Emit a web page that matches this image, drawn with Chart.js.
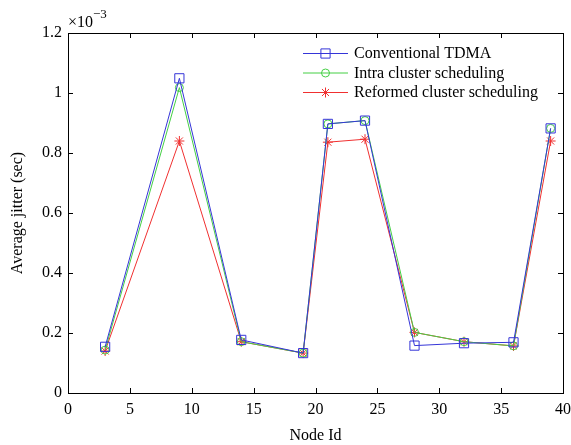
<!DOCTYPE html>
<html>
<head>
<meta charset="utf-8">
<script src="https://cdn.jsdelivr.net/npm/chart.js@4.4.1/dist/chart.umd.min.js"></script>
<style>
  html, body { margin: 0; padding: 0; background: #fff; }
  #wrap { width: 571px; height: 445px; }
</style>
</head>
<body>
<div id="wrap"><canvas id="canvas" width="571" height="445"></canvas></div>
<script>
// node ids on the x-axis
var nodeIds = [3, 9, 14, 19, 21, 24, 28, 32, 36, 39];
// average jitter, in units of 1e-3 sec
var tdmaJitter     = [0.154, 1.049, 0.177, 0.133, 0.897, 0.908, 0.158, 0.166, 0.169, 0.882];
var intraJitter    = [0.143, 1.018, 0.171, 0.133, 0.897, 0.908, 0.202, 0.171, 0.157, 0.882];
var reformedJitter = [0.140, 0.840, 0.171, 0.133, 0.836, 0.846, 0.202, 0.171, 0.157, 0.840];

var xTicks = [0, 5, 10, 15, 20, 25, 30, 35, 40];
var yTicks = [0, 0.2, 0.4, 0.6, 0.8, 1, 1.2];

var serif = "'Liberation Serif', 'Times New Roman', serif";

function toPoints(ys) {
    var pts = [];
    for (var i = 0; i < nodeIds.length; i++) {
        pts.push({x: nodeIds[i], y: ys[i]});
    }
    return pts;
}

var lineData = {
    datasets: [
        {
            label: 'Conventional TDMA',
            data: toPoints(tdmaJitter),
            borderColor: '#3535d8',
            pointStyle: 'rect',
            pointRadius: 6.5,
        },
        {
            label: 'Intra cluster scheduling',
            data: toPoints(intraJitter),
            borderColor: '#45cf45',
            pointStyle: 'circle',
            pointRadius: 4,
        },
        {
            label: 'Reformed cluster scheduling',
            data: toPoints(reformedJitter),
            borderColor: '#f03030',
            pointStyle: 'star',
            pointRadius: 5,
        },
    ],
};

// box, inward ticks, exponent label and legend, matlab style
var matlabDecor = {
    id: 'matlabDecor',
    afterDraw: function(chart) {
        var ctx = chart.ctx;
        var a = chart.chartArea;
        var xs = chart.scales.x, ys = chart.scales.y;
        ctx.save();
        ctx.strokeStyle = '#000';
        ctx.lineWidth = 1;
        ctx.strokeRect(Math.round(a.left) + 0.5, Math.round(a.top) + 0.5,
                       Math.round(a.right - a.left), Math.round(a.bottom - a.top));
        var tl = 5;
        ctx.beginPath();
        xTicks.forEach(function(v) {
            var px = Math.round(xs.getPixelForValue(v)) + 0.5;
            ctx.moveTo(px, a.bottom); ctx.lineTo(px, a.bottom - tl);
            ctx.moveTo(px, a.top); ctx.lineTo(px, a.top + tl);
        });
        yTicks.forEach(function(v) {
            var py = Math.round(ys.getPixelForValue(v)) + 0.5;
            ctx.moveTo(a.left, py); ctx.lineTo(a.left + tl, py);
            ctx.moveTo(a.right, py); ctx.lineTo(a.right - tl, py);
        });
        ctx.stroke();

        // exponent
        ctx.fillStyle = '#000';
        ctx.textBaseline = 'middle';
        ctx.textAlign = 'left';
        ctx.font = '16px ' + serif;
        ctx.fillText('\u00d710', a.left, 23);
        var w = ctx.measureText('\u00d710').width;
        ctx.font = '13px ' + serif;
        ctx.fillText('\u22123', a.left + w, 15);

        // legend
        var lx0 = 303, lx1 = 348, ly = 53, step = 19.5;
        chart.data.datasets.forEach(function(ds, i) {
            var y = ly + i * step;
            ctx.strokeStyle = ds.borderColor;
            ctx.lineWidth = 1;
            ctx.beginPath();
            ctx.moveTo(lx0, y + 0.5); ctx.lineTo(lx1, y + 0.5);
            ctx.stroke();
            if (Chart.helpers && Chart.helpers.drawPoint) {
                ctx.fillStyle = 'rgba(0,0,0,0)';
                Chart.helpers.drawPoint(ctx, {pointStyle: ds.pointStyle, radius: ds.pointRadius, rotation: 0, borderWidth: 1},
                                        (lx0 + lx1) / 2, y + 0.5);
            }
            ctx.fillStyle = '#000';
            ctx.font = '16px ' + serif;
            ctx.textAlign = 'left';
            ctx.textBaseline = 'middle';
            ctx.fillText(ds.label, 354, y + 1);
        });
        ctx.restore();
    }
};

window.onload = function() {
    var ctx = document.getElementById('canvas').getContext('2d');
    window.myLine = new Chart(ctx, {
        type: 'line',
        data: lineData,
        plugins: [matlabDecor],
        options: {
            responsive: false,
            animation: false,
            layout: { padding: { top: 33, right: 8, left: 0, bottom: 0 } },
            elements: {
                line: { borderWidth: 1, tension: 0, fill: false },
                point: { borderWidth: 1, backgroundColor: 'rgba(0,0,0,0)' },
            },
            plugins: { legend: { display: false }, tooltip: { enabled: false } },
            scales: {
                x: {
                    type: 'linear', min: 0, max: 40,
                    afterFit: function(s) { s.height = 52; s.paddingRight = 0; s.paddingLeft = 0; },
                    afterBuildTicks: function(s) { s.ticks = xTicks.map(function(v) { return {value: v}; }); },
                    grid: { display: false, drawTicks: false },
                    border: { display: false },
                    ticks: { color: '#000', font: { family: serif, size: 16 }, padding: 7, maxRotation: 0 },
                    title: { display: true, text: 'Node Id', color: '#000', font: { family: serif, size: 16 }, padding: { top: 2, bottom: 0 } },
                },
                y: {
                    min: 0, max: 1.2,
                    afterFit: function(s) { s.width = 68; s.paddingTop = 0; s.paddingBottom = 0; },
                    afterBuildTicks: function(s) { s.ticks = yTicks.map(function(v) { return {value: v}; }); },
                    grid: { display: false, drawTicks: false },
                    border: { display: false },
                    ticks: { color: '#000', font: { family: serif, size: 16 }, padding: 6,
                             callback: function(v) { return String(Math.round(v * 10) / 10); } },
                    title: { display: true, text: 'Average jitter (sec)', color: '#000', font: { family: serif, size: 16 }, padding: { top: 8, bottom: 0 } },
                },
            },
        },
    });
};
</script>
</body>
</html>
